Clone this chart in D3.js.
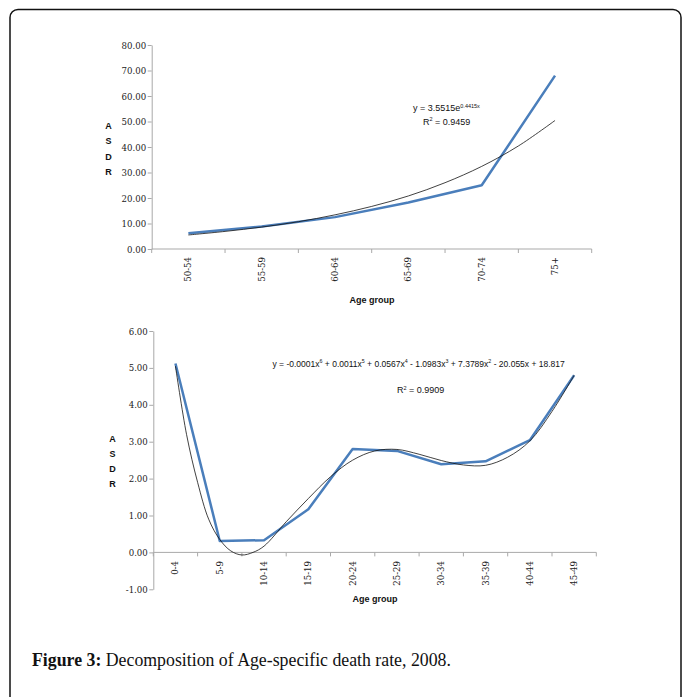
<!DOCTYPE html>
<html>
<head>
<meta charset="utf-8">
<script src="https://cdn.jsdelivr.net/npm/d3@7/dist/d3.min.js"></script>
<style>
  html, body { margin: 0; padding: 0; background: #fff; }
  svg { display: block; }
  .tick-lab { font-family: "DejaVu Serif", "Liberation Serif", serif; font-size: 8.6px; fill: #222; }
  .cal { font-family: "Liberation Sans Narrow", "Liberation Sans", Arial, sans-serif; fill: #111; }
</style>
</head>
<body>
<svg id="fig" width="683" height="697"></svg>
<script>
// Age-standardised death rates, 2008, by age group
const olderGroups = ["50-54", "55-59", "60-64", "65-69", "70-74", "75+"];
const olderAsdr = [6.2, 8.8, 12.5, 18.2, 25.0, 68.0];
// exponential trend y = 3.5515e^(0.4415x), sampled at half steps
const olderTrendX = [1, 1.5, 2, 2.5, 3, 3.5, 4, 4.5, 5, 5.5, 6];
const olderTrendY = [5.5, 6.9, 8.6, 10.7, 13.4, 16.7, 20.8, 26.0, 32.4, 40.4, 50.4];
const olderTicks = [0, 10, 20, 30, 40, 50, 60, 70, 80];

const youngerGroups = ["0-4", "5-9", "10-14", "15-19", "20-24", "25-29", "30-34", "35-39", "40-44", "45-49"];
const youngerAsdr = [5.12, 0.31, 0.33, 1.17, 2.80, 2.75, 2.39, 2.47, 3.04, 4.80];
// polynomial (6th order) trend, sampled along the age axis
const youngerTrendX = [1, 1.25, 1.5, 1.75, 2, 2.25, 2.5, 2.75, 3, 3.5, 4, 4.5, 5, 5.5, 6, 6.5, 7, 7.5, 8, 8.5, 9, 9.5, 10];
const youngerTrendY = [5.05, 3.2, 1.9, 0.9, 0.35, 0.04, -0.07, 0.0, 0.17, 0.83, 1.46, 2.05, 2.50, 2.75, 2.79, 2.66, 2.49, 2.37, 2.36, 2.58, 3.02, 3.82, 4.80];
const youngerTicks = [-1, 0, 1, 2, 3, 4, 5, 6];

const svg = d3.select("#fig");
const BLUE = "#4a7ebb";
const AXIS = "#a9a9a9";
// plain hyphen for negative tick values
const fmt2 = d3.formatLocale({ decimal: ".", thousands: ",", grouping: [3], currency: ["", ""], minus: "-" }).format(".2f");

// frame
svg.append("rect")
  .attr("x", 10).attr("y", 9.5).attr("width", 671).attr("height", 720)
  .attr("rx", 8).attr("ry", 8)
  .attr("fill", "none").attr("stroke", "#111").attr("stroke-width", 1.5);

function drawPanel(cfg) {
  const g = svg.append("g");
  const x = d3.scaleBand().domain(cfg.groups).range([cfg.left, cfg.right]).padding(0);
  const y = d3.scaleLinear().domain(cfg.domain).range([cfg.bottom, cfg.top]);
  const xi = d3.scaleLinear().domain([1, cfg.groups.length])
    .range([x(cfg.groups[0]) + x.bandwidth() / 2, x(cfg.groups[cfg.groups.length - 1]) + x.bandwidth() / 2]);

  // value axis
  const yAxis = d3.axisLeft(y).tickValues(cfg.ticks).tickSize(4).tickSizeOuter(0).tickFormat(fmt2);
  const ya = g.append("g").attr("transform", `translate(${cfg.left},0)`).call(yAxis);
  ya.select(".domain").attr("stroke", AXIS);
  ya.selectAll(".tick line").attr("stroke", AXIS);
  ya.selectAll(".tick text").attr("class", "tick-lab").attr("x", -5.5).attr("dy", "0.35em");

  // category axis at value 0, with ticks on category boundaries
  const y0 = y(0);
  const bounds = cfg.groups.map(d => x(d)).concat([cfg.right]);
  g.append("line").attr("x1", cfg.left).attr("x2", cfg.right).attr("y1", y0).attr("y2", y0)
    .attr("stroke", AXIS);
  g.selectAll(".bt").data(bounds).join("line")
    .attr("x1", d => d).attr("x2", d => d).attr("y1", y0).attr("y2", y0 + 4)
    .attr("stroke", AXIS);
  g.selectAll(".cat").data(cfg.groups).join("text")
    .attr("class", "tick-lab")
    .attr("text-anchor", "end")
    .attr("transform", d => `translate(${x(d) + x.bandwidth() / 2 + 3},${cfg.labelTop}) rotate(-90)`)
    .text(d => d);

  // axis titles
  g.append("text").attr("class", "cal").attr("x", cfg.titleX).attr("y", cfg.titleY)
    .attr("text-anchor", "middle").attr("font-size", 9).attr("font-weight", "bold").text("Age group");
  ["A", "S", "D", "R"].forEach((c, i) => {
    g.append("text").attr("class", "cal").attr("x", cfg.asdrX).attr("y", cfg.asdrY + i * 15.3)
      .attr("text-anchor", "middle").attr("font-size", 9).attr("font-weight", "bold").text(c);
  });

  // observed series
  g.append("path")
    .datum(cfg.values)
    .attr("fill", "none").attr("stroke", BLUE).attr("stroke-width", 2.5)
    .attr("stroke-linejoin", "round")
    .attr("d", d3.line().x((d, i) => x(cfg.groups[i]) + x.bandwidth() / 2).y(d => y(d)));

  // trend line
  g.append("path")
    .datum(cfg.trendX.map((t, i) => [t, cfg.trendY[i]]))
    .attr("fill", "none").attr("stroke", "#111").attr("stroke-width", 0.8)
    .attr("d", d3.line().curve(d3.curveCatmullRom.alpha(0.5)).x(d => xi(d[0])).y(d => y(d[1])));

  return g;
}

drawPanel({
  groups: olderGroups, values: olderAsdr, trendX: olderTrendX, trendY: olderTrendY,
  ticks: olderTicks, domain: [0, 80],
  left: 151.7, right: 591.7, top: 45, bottom: 249,
  labelTop: 257, titleX: 372, titleY: 303, asdrX: 108.5, asdrY: 129
});

drawPanel({
  groups: youngerGroups, values: youngerAsdr, trendX: youngerTrendX, trendY: youngerTrendY,
  ticks: youngerTicks, domain: [-1, 6],
  left: 153.3, right: 596.3, top: 331, bottom: 589.3,
  labelTop: 561, titleX: 375, titleY: 602, asdrX: 112.5, asdrY: 441.5
});

// trend equations
const eq1 = svg.append("text").attr("class", "cal").attr("font-size", 9).attr("x", 413).attr("y", 111);
eq1.append("tspan").text("y = 3.5515e");
eq1.append("tspan").attr("font-size", 5.5).attr("dy", -3.5).text("0.4415x");
const r1 = svg.append("text").attr("class", "cal").attr("font-size", 9).attr("x", 423).attr("y", 124.5);
r1.append("tspan").text("R");
r1.append("tspan").attr("font-size", 5.5).attr("dy", -3.5).text("2");
r1.append("tspan").attr("dy", 3.5).text(" = 0.9459");

const eq2 = svg.append("text").attr("class", "cal").attr("font-size", 8.5).attr("x", 272.5).attr("y", 366.5);
const parts = [["y = -0.0001x", "6"], [" + 0.0011x", "5"], [" + 0.0567x", "4"], [" - 1.0983x", "3"],
               [" + 7.3789x", "2"], [" - 20.055x + 18.817", null]];
parts.forEach(([t, s], i) => {
  eq2.append("tspan").attr("dy", i ? 3.5 : 0).text(t);
  if (s) eq2.append("tspan").attr("font-size", 5.3).attr("dy", -3.5).text(s);
});
const r2 = svg.append("text").attr("class", "cal").attr("font-size", 9).attr("x", 397).attr("y", 393);
r2.append("tspan").text("R");
r2.append("tspan").attr("font-size", 5.5).attr("dy", -3.5).text("2");
r2.append("tspan").attr("dy", 3.5).text(" = 0.9909");

// caption
const cap = svg.append("text").attr("x", 32).attr("y", 666)
  .attr("font-family", "'Liberation Serif', 'DejaVu Serif', serif").attr("font-size", 17.8).attr("fill", "#111");
cap.append("tspan").attr("font-weight", "bold").text("Figure 3:");
cap.append("tspan").text(" Decomposition of Age-specific death rate, 2008.");
</script>
</body>
</html>
